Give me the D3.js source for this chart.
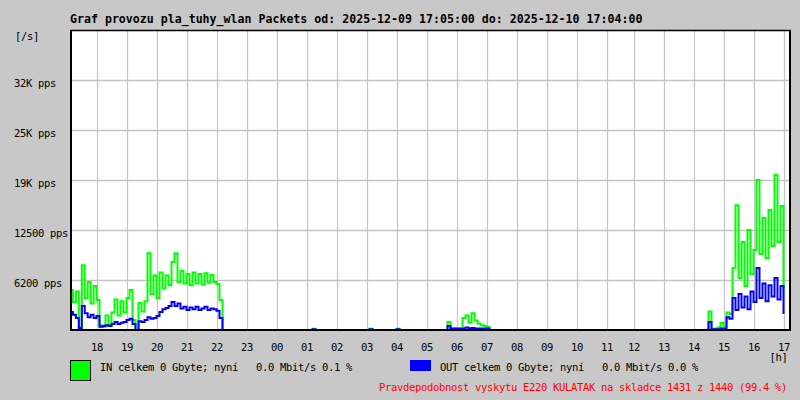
<!DOCTYPE html>
<html>
<head>
<meta charset="utf-8">
<script src="https://cdn.jsdelivr.net/npm/d3@7"></script>
<style>
  html, body { margin: 0; padding: 0; background: #c8c8c8; }
  svg { display: block; }
  text { font-family: "DejaVu Sans Mono", "Liberation Mono", monospace; }
</style>
</head>
<body>
<svg id="chart" width="800" height="400"></svg>
<script>
// ---------- DATA ----------
const titleText = "Graf provozu pla_tuhy_wlan Packets od: 2025-12-09 17:05:00 do: 2025-12-10 17:04:00";
const unitLabel = "[/s]";
const hourUnit = "[h]";
const hourLabels = ["18","19","20","21","22","23","00","01","02","03","04","05","06","07","08","09","10","11","12","13","14","15","16","17"];
const yTickValues = [6250, 12500, 18750, 25000, 31250];
const yTickLabels = ["6200 pps", "12500 pps", "19K pps", "25K pps", "32K pps"];
const yMax = 37500;
const sampleStepMinutes = 6;   // one sample per 6 minutes starting 17:05
const legendIn = "IN celkem 0 Gbyte; nyní   0.0 Mbit/s 0.1 %";
const legendOut = "OUT celkem 0 Gbyte; nyní   0.0 Mbit/s 0.0 %";
const footerText = "Pravdepodobnost vyskytu E220 KULATAK na skladce 1431 z 1440 (99.4 %)";

const inValues = [
  5000,3500,4800,300,8100,4000,6000,3300,5500,3750,
  600,400,1800,600,2200,3800,1800,3600,2200,4000,
  5000,1250,0,3400,2300,3600,9600,4500,6800,4000,
  7200,5200,6800,5600,8500,9600,6000,7400,5800,7000,
  5600,7200,5800,7000,5700,7100,5900,6900,6000,5750,
  3750,0,0,0,0,0,0,0,0,0,
  0,0,0,0,0,0,0,0,0,0,
  0,0,0,0,0,0,0,0,0,0,
  0,150,0,0,0,0,0,0,0,0,
  0,0,0,0,0,0,0,0,0,0,
  150,0,0,0,0,0,0,0,0,150,
  0,0,0,0,0,0,0,0,0,0,
  0,0,0,0,0,0,1000,250,250,250,
  200,1500,1800,900,2100,1200,800,600,500,400,
  0,0,0,0,0,0,0,0,0,0,
  0,0,0,0,0,0,0,0,0,0,
  0,0,0,0,0,0,0,0,0,0,
  0,0,0,0,0,0,0,0,0,0,
  0,0,0,0,0,0,0,0,0,0,
  0,0,0,0,0,0,0,0,0,0,
  0,0,0,0,0,0,0,0,0,0,
  0,0,0,0,2300,150,200,300,900,400,
  2200,2000,7750,15600,6500,11000,5500,12500,7000,10000,
  18750,9500,14000,9000,15000,10500,19400,11000,15500,5000
];
const outValues = [
  2250,1900,1500,250,3000,2100,1600,1900,1500,1750,
  400,500,600,500,750,1000,750,900,1000,1250,
  1400,750,0,1100,1000,1250,1600,1400,1500,1750,
  2250,2600,2750,3000,3500,3000,3300,2700,2900,2500,
  2800,2600,2900,2500,2700,2900,2500,2700,2600,2400,
  1500,0,0,0,0,0,0,0,0,0,
  0,0,0,0,0,0,0,0,0,0,
  0,0,0,0,0,0,0,0,0,0,
  0,100,0,0,0,0,0,0,0,0,
  0,0,0,0,0,0,0,0,0,0,
  100,0,0,0,0,0,0,0,0,100,
  0,0,0,0,0,0,0,0,0,0,
  0,0,0,0,0,0,500,150,150,150,
  150,200,300,200,250,200,200,200,200,200,
  0,0,0,0,0,0,0,0,0,0,
  0,0,0,0,0,0,0,0,0,0,
  0,0,0,0,0,0,0,0,0,0,
  0,0,0,0,0,0,0,0,0,0,
  0,0,0,0,0,0,0,0,0,0,
  0,0,0,0,0,0,0,0,0,0,
  0,0,0,0,0,0,0,0,0,0,
  0,0,0,0,1000,100,100,100,200,150,
  1600,1400,4000,2500,4500,2800,4200,2600,4800,3500,
  7750,4000,5800,3600,5600,4200,6500,3800,5500,2000
];

// ---------- LAYOUT ----------
const W = 800, H = 400;
const plot = { left: 70, top: 30, right: 790, bottom: 330 };

const svg = d3.select("#chart");

// x: minutes since 17:05 (slightly non-uniform like the original renderer)
const x = d3.scaleLinear()
  .domain([0, 55, 1075, 1135, 1440])
  .range([70, 97, 607, 634, 786.5]);
const y = d3.scaleLinear().domain([0, yMax]).range([plot.bottom, plot.top]);

// background
svg.append("rect").attr("x", 0).attr("y", 0).attr("width", W).attr("height", H).attr("fill", "#c8c8c8");
svg.append("rect")
  .attr("x", plot.left).attr("y", plot.top)
  .attr("width", plot.right - plot.left).attr("height", plot.bottom - plot.top)
  .attr("fill", "#ffffff");

// title
svg.append("text").attr("x", 70).attr("y", 23)
  .attr("font-size", "11.6px").attr("font-weight", "bold").attr("fill", "#000")
  .text(titleText);

svg.append("text").attr("x", 15).attr("y", 39.5)
  .attr("font-size", "10.5px").attr("letter-spacing", "-0.32px").attr("fill", "#000")
  .text(unitLabel);

// grid: horizontal
const hourMinutes = hourLabels.map((_, k) => 55 + 60 * k);
svg.append("g").selectAll("line").data(yTickValues).join("line")
  .attr("x1", plot.left).attr("x2", plot.right)
  .attr("y1", d => Math.round(y(d)) + 0.5).attr("y2", d => Math.round(y(d)) + 0.5)
  .attr("stroke", "#c4c4c4").attr("stroke-width", 1.4);

// grid: vertical
svg.append("g").selectAll("line").data(hourMinutes).join("line")
  .attr("x1", d => Math.round(x(d)) + 0.5).attr("x2", d => Math.round(x(d)) + 0.5)
  .attr("y1", plot.top).attr("y2", plot.bottom)
  .attr("stroke", "#c4c4c4").attr("stroke-width", 1.2);

// y labels
svg.append("g").selectAll("text").data(yTickValues).join("text")
  .attr("x", 14).attr("y", d => y(d) + 6.5)
  .attr("font-size", "10.5px").attr("letter-spacing", "-0.32px").attr("fill", "#000")
  .text((d, i) => yTickLabels[i]);

// x labels
svg.append("g").selectAll("text").data(hourMinutes).join("text")
  .attr("x", d => x(d)).attr("y", 351)
  .attr("text-anchor", "middle")
  .attr("font-size", "10.5px").attr("letter-spacing", "-0.32px").attr("fill", "#000")
  .text((d, i) => hourLabels[i]);

svg.append("text").attr("x", 787.5).attr("y", 360.5).attr("text-anchor", "end")
  .attr("font-size", "10.5px").attr("letter-spacing", "-0.32px").attr("fill", "#000")
  .text(hourUnit);

// data lines
const line = d3.line()
  .x((d, i) => x(i * sampleStepMinutes))
  .y(d => y(d))
  .curve(d3.curveStepAfter);

svg.append("path").datum(inValues)
  .attr("d", line).attr("fill", "none").attr("stroke", "#00ff00").attr("stroke-width", 2);
svg.append("path").datum(outValues)
  .attr("d", line).attr("fill", "none").attr("stroke", "#0000ff").attr("stroke-width", 2);

// plot border
svg.append("line").attr("x1", plot.left).attr("x2", plot.right + 1).attr("y1", plot.top + 0.5).attr("y2", plot.top + 0.5)
  .attr("stroke", "#000").attr("stroke-width", 1.5);
svg.append("line").attr("x1", plot.left + 1).attr("x2", plot.left + 1).attr("y1", plot.top).attr("y2", plot.bottom + 1)
  .attr("stroke", "#000").attr("stroke-width", 2);
svg.append("line").attr("x1", plot.left).attr("x2", plot.right + 1).attr("y1", plot.bottom).attr("y2", plot.bottom)
  .attr("stroke", "#000").attr("stroke-width", 2);
svg.append("line").attr("x1", plot.right).attr("x2", plot.right).attr("y1", plot.top).attr("y2", plot.bottom)
  .attr("stroke", "#000").attr("stroke-width", 2);

// legend
svg.append("rect").attr("x", 70.5).attr("y", 360.5).attr("width", 20).attr("height", 20)
  .attr("fill", "#00ff00").attr("stroke", "#000").attr("stroke-width", 1);
svg.append("text").attr("x", 100).attr("y", 370.5)
  .attr("font-size", "10.5px").attr("letter-spacing", "-0.32px").attr("fill", "#000")
  .style("white-space", "pre")
  .text(legendIn);

svg.append("rect").attr("x", 410).attr("y", 360).attr("width", 21).attr("height", 11)
  .attr("fill", "#0000ff");
svg.append("text").attr("x", 440).attr("y", 370.5)
  .attr("font-size", "10.5px").attr("letter-spacing", "-0.32px").attr("fill", "#000")
  .style("white-space", "pre")
  .text(legendOut);

svg.append("text").attr("x", 787).attr("y", 390.5).attr("text-anchor", "end")
  .attr("font-size", "10.5px").attr("letter-spacing", "-0.32px").attr("fill", "#ff0000")
  .text(footerText);
</script>
</body>
</html>
